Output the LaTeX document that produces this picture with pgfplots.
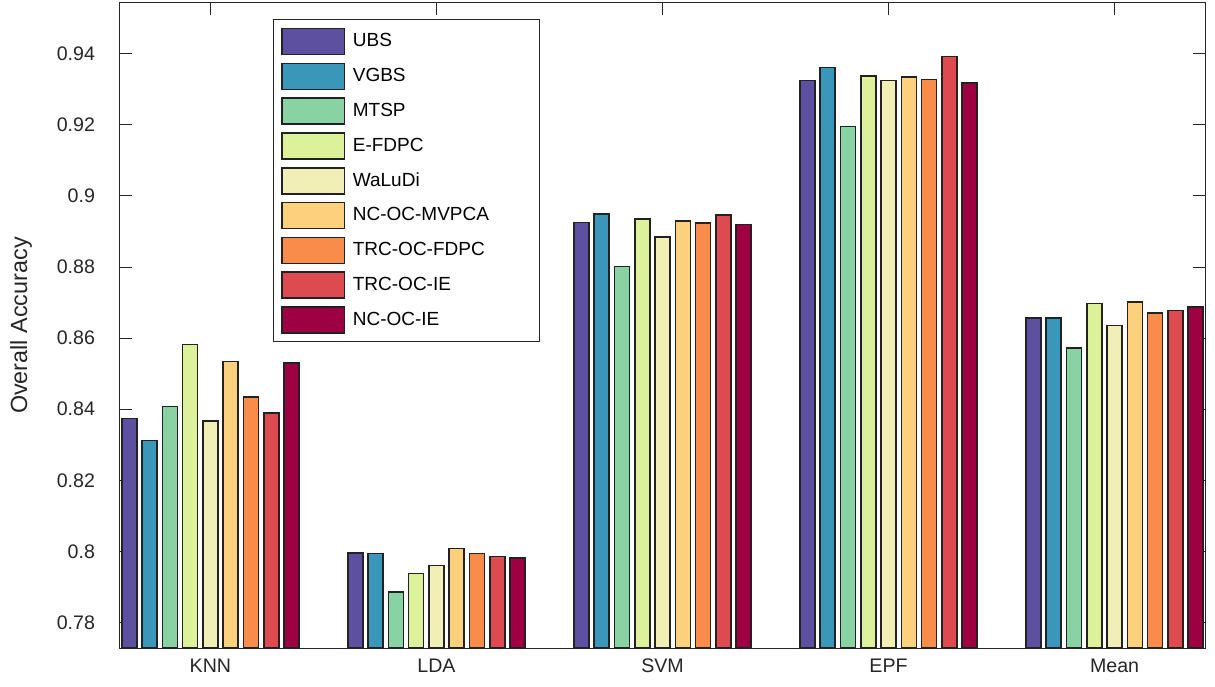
\documentclass[border=0pt]{standalone}
\usepackage{pgfplots}
\pgfplotsset{compat=1.18}
\usepackage{fontspec}
\setmainfont{Liberation Sans}
\definecolor{c1}{HTML}{5E50A1}
\definecolor{c2}{HTML}{3A97BA}
\definecolor{c3}{HTML}{88D2A4}
\definecolor{c4}{HTML}{DDF09A}
\definecolor{c5}{HTML}{F1EFB5}
\definecolor{c6}{HTML}{FDD07E}
\definecolor{c7}{HTML}{F98B4B}
\definecolor{c8}{HTML}{DD4A4F}
\definecolor{c9}{HTML}{9E0142}
\definecolor{axgray}{HTML}{262626}
\definecolor{edge}{HTML}{222222}
\newcommand{\lb}[1]{\makebox[89.3pt][l]{#1}}
\begin{document}
\begin{tikzpicture}
\begin{axis}[
  name=ax,
  ybar=2.65pt,
  bar width=7.5pt,
  scale only axis,
  width=542.5pt, height=322.5pt,
  xmin=0.6, xmax=5.4,
  ymin=0.7728, ymax=0.9543,
  axis line style={axgray, line width=0.5pt},
  xtick={1,2,3,4,5},
  xticklabels={KNN,LDA,SVM,EPF,Mean},
  ytick={0.78,0.80,0.82,0.84,0.86,0.88,0.90,0.92,0.94},
  yticklabels={0.78,0.8,0.82,0.84,0.86,0.88,0.9,0.92,0.94},
  xtick pos=both, ytick pos=both,
  tick align=inside,
  xtick align=inside, ytick align=inside,
  major tick length=6pt,
  tick style={axgray, line width=0.5pt},
  ticklabel style={font=\fontsize{9.8}{11}\selectfont, text=axgray},
  yticklabel style={xshift=-9pt},
  xticklabel style={yshift=-2pt},
  ylabel={Overall Accuracy},
  every axis y label/.style={at={(axis description cs:-0.0912,0.5)}, rotate=90, anchor=center, font=\fontsize{11.7}{13}\selectfont, text=axgray},
  legend image code/.code={\draw[#1, draw=edge, line width=0.8pt] (0pt,-6.5pt) rectangle (31.3pt,6.5pt);},
  legend style={at={(0.1407,0.975)}, anchor=north west, draw=axgray, line width=0.6pt,
     inner xsep=4pt, inner ysep=4pt, row sep=3.6pt, column sep=3.7pt,
     nodes={inner sep=0pt}, font=\fontsize{9.5}{11}\selectfont},
  legend cell align=left,
]
\addplot[draw=edge, line width=0.8pt, fill=c1] coordinates {(1,0.8374) (2,0.7996) (3,0.8925) (4,0.9325) (5,0.8656)};
\addplot[draw=edge, line width=0.8pt, fill=c2] coordinates {(1,0.8312) (2,0.7994) (3,0.8950) (4,0.9362) (5,0.8656)};
\addplot[draw=edge, line width=0.8pt, fill=c3] coordinates {(1,0.8408) (2,0.7886) (3,0.8802) (4,0.9196) (5,0.8573)};
\addplot[draw=edge, line width=0.8pt, fill=c4] coordinates {(1,0.8582) (2,0.7938) (3,0.8936) (4,0.9337) (5,0.8697)};
\addplot[draw=edge, line width=0.8pt, fill=c5] coordinates {(1,0.8366) (2,0.7960) (3,0.8885) (4,0.9325) (5,0.8635)};
\addplot[draw=edge, line width=0.8pt, fill=c6] coordinates {(1,0.8534) (2,0.8008) (3,0.8930) (4,0.9335) (5,0.8701)};
\addplot[draw=edge, line width=0.8pt, fill=c7] coordinates {(1,0.8435) (2,0.7994) (3,0.8924) (4,0.9328) (5,0.8670)};
\addplot[draw=edge, line width=0.8pt, fill=c8] coordinates {(1,0.8389) (2,0.7985) (3,0.8946) (4,0.9392) (5,0.8678)};
\addplot[draw=edge, line width=0.8pt, fill=c9] coordinates {(1,0.8530) (2,0.7982) (3,0.8920) (4,0.9318) (5,0.8688)};
\legend{\lb{UBS},\lb{VGBS},\lb{MTSP},\lb{E-FDPC},\lb{WaLuDi},\lb{NC-OC-MVPCA},\lb{TRC-OC-FDPC},\lb{TRC-OC-IE},\lb{NC-OC-IE}}
\end{axis}
\path (ax.south west) ++(-60pt,-19pt) coordinate (bl);
\path (ax.north east) ++(5pt,1.5pt) coordinate (tr);
\path[use as bounding box] (bl) rectangle (tr);
\end{tikzpicture}
\end{document}
